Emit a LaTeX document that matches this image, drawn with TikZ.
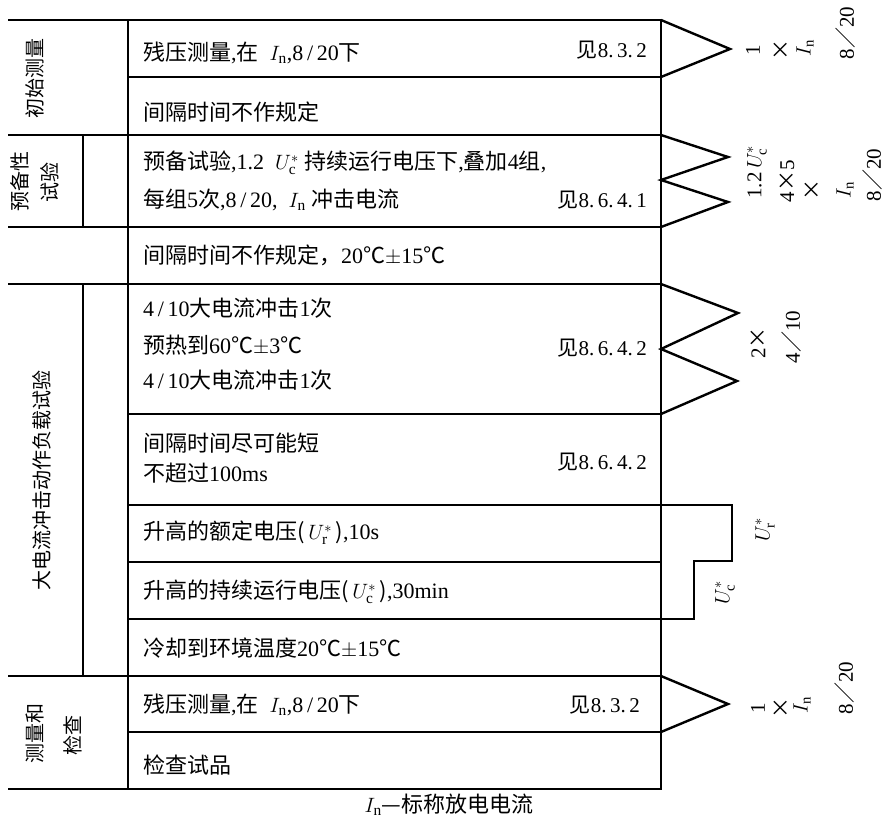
\documentclass[tikz,border=0pt]{standalone}
\usepackage{fontspec}
\setmainfont{Liberation Serif}
\newfontfamily\zhfont{Noto Sans CJK SC}
\usetikzlibrary{positioning,calc}
\newcommand{\zh}[1]{{\zhfont #1}}
\newcommand{\Inom}{$I_{\mathrm{n}}$}
\newcommand{\Ucs}{$U_{\mathrm{c}}^{*}$}
\newcommand{\Urs}{$U_{\mathrm{r}}^{*}$}
\newcommand{\sla}{\,/\,}
\newcommand{\tms}{\zh{×}}
\newcommand{\mylw}{2.4pt}
\tikzset{
    linesty/.style={line width=\mylw, line join=miter},
    thinsty/.style={line width=1.2pt},
    textsty/.style={anchor=west, inner sep=0pt, font=\fontsize{22}{26}\selectfont},
    refsty/.style={anchor=east, inner sep=0pt, font=\fontsize{21}{26}\selectfont},
    sidesty/.style={rotate=90, inner sep=0pt, font=\fontsize{20}{24}\selectfont},
    marksty/.style={rotate=90, inner sep=0pt, font=\fontsize{21}{24}\selectfont},
    capsty/.style={inner sep=0pt, font=\fontsize{22}{26}\selectfont},
}

\begin{document}
\begin{tikzpicture}[x=1pt,y=-1pt]
  \useasboundingbox (0,0) rectangle (886,820);

  % table frame and rows
  \draw[linesty] (128,20) rectangle (661,789);
  \foreach \y in {77,135,227,284,414,505,562,619,676,732}
    \draw[linesty] (128,\y) -- (661,\y);
  \foreach \y in {20,135,227,284,676,789}
    \draw[linesty] (8,\y) -- (128,\y);
  \draw[thinsty] (83,135) -- (83,227);
  \draw[thinsty] (83,284) -- (83,676);

  % pulses on the right
  \draw[linesty] (661,20) -- (730,49) -- (661,77);
  \draw[linesty] (661,135) -- (728,157) -- (661,180) -- (728,202) -- (661,227);
  \draw[linesty] (661,284) -- (738,313) -- (661,349) -- (737,381) -- (661,414);
  \draw[linesty] (661,505) -- (732,505) -- (732,561) -- (694,561) -- (694,619) -- (661,619);
  \draw[linesty] (661,676) -- (728,704) -- (661,732);

  % left column
  \node[sidesty] (init) at (35,78) {\zh{初始测量}};
  \node[sidesty] (prepa) at (20,181) {\zh{预备性}};
  \node[sidesty] (prepb) at (50,182) {\zh{试验}};
  \node[sidesty] (duty) at (42,480) {\zh{大电流冲击动作负载试验}};
  \node[sidesty] (checka) at (35,733) {\zh{测量和}};
  \node[sidesty] (checkb) at (73,735) {\zh{检查}};

  % row texts
  \node[textsty] (r1) at (143,53) {\zh{残压测量},\zh{在}\ \ \Inom,8\sla20\zh{下}};
  \node[refsty] (r1ref) at (647,50) {\zh{见}8.\,3.\,2};
  \node[textsty] (r2) at (143,112) {\zh{间隔时间不作规定}};
  \node[textsty] (r3a) at (143,163) {\zh{预备试验},1.2\ \ \Ucs\ \zh{持续运行电压下},\zh{叠加}4\zh{组},};
  \node[textsty] (r3b) at (143,200) {\zh{每组}5\zh{次},8\sla20,\ \ \Inom\ \zh{冲击电流}};
  \node[refsty] (r3ref) at (647,200) {\zh{见}8.\,6.\,4.\,1};
  \node[textsty] (r4) at (143,255) {\zh{间隔时间不作规定，}20\zh{℃}$\pm$15\zh{℃}};
  \node[textsty] (r5a) at (143,308) {4\sla10\zh{大电流冲击}1\zh{次}};
  \node[textsty] (r5b) at (143,345) {\zh{预热到}60\zh{℃}$\pm$3\zh{℃}};
  \node[textsty] (r5c) at (143,380) {4\sla10\zh{大电流冲击}1\zh{次}};
  \node[refsty] (r5ref) at (647,348) {\zh{见}8.\,6.\,4.\,2};
  \node[textsty] (r6a) at (143,443) {\zh{间隔时间尽可能短}};
  \node[textsty] (r6b) at (143,473) {\zh{不超过}100ms};
  \node[refsty] (r6ref) at (647,462) {\zh{见}8.\,6.\,4.\,2};
  \node[textsty] (r7) at (143,533) {\zh{升高的额定电压(}\,\Urs\,\zh{)},10s};
  \node[textsty] (r8) at (143,592) {\zh{升高的持续运行电压(}\,\Ucs\,\zh{)},30min};
  \node[textsty] (r9) at (143,648) {\zh{冷却到环境温度}20\zh{℃}$\pm$15\zh{℃}};
  \node[textsty] (r10) at (143,705) {\zh{残压测量},\zh{在}\ \ \Inom,8\sla20\zh{下}};
  \node[refsty] (r10ref) at (640,705) {\zh{见}8.\,3.\,2};
  \node[textsty] (r11) at (143,765) {\zh{检查试品}};

  % pulse labels
  \node[marksty] (m1a) at (753,50) {1};
  \node[marksty] (m1b) at (781,50) {\tms};
  \node[marksty] (m1c) at (805,48) {\Inom};
  \node[marksty] (m1d) at (846,33) {8\zh{／}20};
  \node[marksty] (m3a) at (757,172) {1.2\,\Ucs};
  \node[marksty] (m3b) at (787,181) {4\tms5};
  \node[marksty] (m3c) at (812,190) {\tms};
  \node[marksty] (m3d) at (845,190) {\Inom};
  \node[marksty] (m3e) at (873,175) {8\zh{／}20};
  \node[marksty] (m5a) at (758,343) {2\tms};
  \node[marksty] (m5b) at (792,337) {4\zh{／}10};
  \node[marksty] (m7) at (765,530) {\Urs};
  \node[marksty] (m8) at (725,593) {\Ucs};
  \node[marksty] (m10a) at (758,708) {1};
  \node[marksty] (m10b) at (781,708) {\tms};
  \node[marksty] (m10c) at (802,705) {\Inom};
  \node[marksty] (m10d) at (845,688) {8\zh{／}20};

  % caption
  \node[capsty] (cap) at (449,805) {\Inom\zh{—标称放电电流}};
\end{tikzpicture}
\end{document}
